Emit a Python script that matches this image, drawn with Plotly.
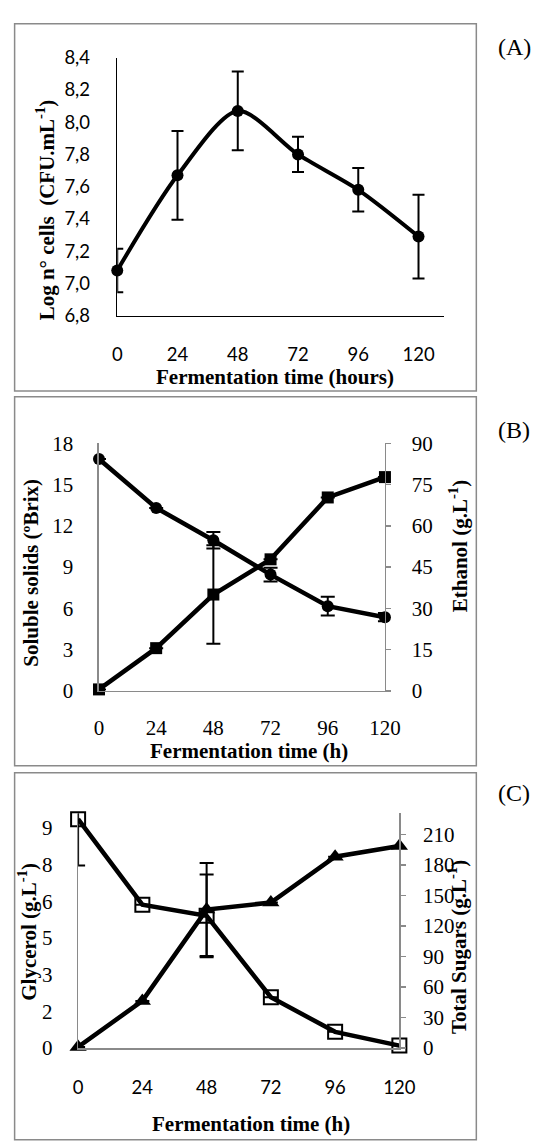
import plotly.graph_objects as go

# ---------------- data ----------------
hours = [0, 24, 48, 72, 96, 120]

# (A) yeast population
log_cells = [7.08, 7.67, 8.07, 7.80, 7.58, 7.29]
log_cells_err = [0.135, 0.275, 0.245, 0.11, 0.135, 0.26]

# (B) soluble solids and ethanol
soluble_solids = [16.85, 13.3, 10.95, 8.45, 6.15, 5.35]
soluble_solids_err = [0, 0, 0.6, 0.5, 0.68, 0.3]
ethanol = [0.5, 15.5, 35.0, 47.8, 70.3, 77.7]
ethanol_err = [0, 0, 17.9, 0, 0, 0]

# (C) glycerol and total sugars
glycerol = [0.05, 1.93, 5.66, 5.95, 7.82, 8.26]
glycerol_err = [0, 0, 1.9, 0, 0, 0]
total_sugars = [225, 141, 130, 50, 16, 2.5]
total_sugars_err = [45.5, 0, 40.7, 0, 0, 0]

x_ticks = [0, 24, 48, 72, 96, 120]
glycerol_tickvals = [0, 1.5, 3, 4.5, 6, 7.5, 9]
glycerol_ticktext = ["0", "2", "3", "5", "6", "8", "9"]

# ---------------- geometry helpers ----------------
W, H = 551, 1146
def fx(px):
    return px / W
def fy(py):
    return 1 - py / H

SERIF = "Liberation Serif, Times New Roman, serif"
SANS = "Lato, Carlito, Calibri, sans-serif"
GRAY = "#8a8a8a"

fig = go.Figure()

# (A)
fig.add_trace(go.Scatter(x=hours, y=log_cells, mode="lines+markers",
                         line=dict(color="black", width=4, shape="spline", smoothing=0.8),
                         marker=dict(symbol="circle", size=12, color="black"),
                         cliponaxis=False, xaxis="x", yaxis="y", showlegend=False))
fig.add_trace(go.Scatter(x=hours, y=log_cells, mode="markers",
                         marker=dict(size=1, color="rgba(0,0,0,0)"),
                         error_y=dict(type="data", array=log_cells_err, color="black",
                                      thickness=2, width=6),
                         xaxis="x", yaxis="y", showlegend=False))

# (B)
fig.add_trace(go.Scatter(x=hours, y=soluble_solids, mode="lines+markers",
                         line=dict(color="black", width=4.5),
                         marker=dict(symbol="circle", size=12, color="black"),
                         cliponaxis=False, xaxis="x2", yaxis="y2", showlegend=False))
fig.add_trace(go.Scatter(x=hours, y=soluble_solids, mode="markers",
                         marker=dict(size=1, color="rgba(0,0,0,0)"),
                         error_y=dict(type="data", array=soluble_solids_err, color="black",
                                      thickness=2, width=7),
                         xaxis="x2", yaxis="y2", showlegend=False))
fig.add_trace(go.Scatter(x=hours, y=ethanol, mode="lines+markers",
                         line=dict(color="black", width=4.5),
                         marker=dict(symbol="square", size=12, color="black"),
                         cliponaxis=False, xaxis="x2", yaxis="y3", showlegend=False))
fig.add_trace(go.Scatter(x=hours, y=ethanol, mode="markers",
                         marker=dict(size=1, color="rgba(0,0,0,0)"),
                         error_y=dict(type="data", array=ethanol_err, color="black",
                                      thickness=2, width=7),
                         xaxis="x2", yaxis="y3", showlegend=False))

# (C)
fig.add_trace(go.Scatter(x=hours, y=total_sugars, mode="lines+markers",
                         line=dict(color="black", width=4.5),
                         marker=dict(symbol="square-open", size=14, color="black",
                                     line=dict(width=2, color="black")),
                         cliponaxis=False, xaxis="x3", yaxis="y5", showlegend=False))
fig.add_trace(go.Scatter(x=hours, y=total_sugars, mode="markers",
                         marker=dict(size=1, color="rgba(0,0,0,0)"),
                         error_y=dict(type="data", array=total_sugars_err, color="black",
                                      thickness=2, width=7),
                         xaxis="x3", yaxis="y5", showlegend=False))
fig.add_trace(go.Scatter(x=hours, y=glycerol, mode="lines+markers",
                         line=dict(color="black", width=4.5),
                         marker=dict(symbol="triangle-up", size=15, color="black"),
                         cliponaxis=False, xaxis="x3", yaxis="y4", showlegend=False))
fig.add_trace(go.Scatter(x=hours, y=glycerol, mode="markers",
                         marker=dict(size=1, color="rgba(0,0,0,0)"),
                         error_y=dict(type="data", array=glycerol_err, color="black",
                                      thickness=2, width=7),
                         xaxis="x3", yaxis="y4", showlegend=False))

common_x = dict(showgrid=False, zeroline=False, showline=True, ticks="",
                tickmode="array", tickvals=x_ticks, fixedrange=True)
common_y = dict(showgrid=False, zeroline=False, showline=True, fixedrange=True)

SANS_TICK = dict(family=SANS, size=18.5, color="black")
SERIF_TICK = dict(family=SERIF, size=21, color="black")

fig.update_layout(
    width=W, height=H,
    margin=dict(l=0, r=0, t=0, b=0),
    paper_bgcolor="white", plot_bgcolor="rgba(0,0,0,0)",
    separators=",.",
    showlegend=False,
    hovermode=False,
    xaxis=dict(common_x, domain=[fx(116.7), fx(456)], range=[0, 130], anchor="y",
               linecolor="black", linewidth=1.5,
               tickfont=SANS_TICK, ticklabelstandoff=22),
    yaxis=dict(common_y, domain=[fy(310), fy(46.7)], range=[6.8, 8.4], anchor="x",
               dtick=0.2, tick0=6.8, tickformat=".1f", ticks="",
               linecolor="black", linewidth=1.5,
               tickfont=SANS_TICK, ticklabelstandoff=22),
    xaxis2=dict(common_x, domain=[fx(97.7), fx(395)], range=[0, 120], anchor="y2",
                linecolor=GRAY, linewidth=1.5,
                tickfont=SERIF_TICK, ticklabelstandoff=18),
    yaxis2=dict(common_y, domain=[fy(693.3), fy(440.5)], range=[0, 18], anchor="x2",
                dtick=3, ticks="", linecolor=GRAY, linewidth=1.5,
                tickfont=SERIF_TICK, ticklabelstandoff=20),
    yaxis3=dict(common_y, domain=[fy(693.3), fy(440.5)], range=[0, 90], anchor="x2",
                overlaying="y2", side="right", dtick=15,
                ticks="outside", ticklen=5, tickcolor=GRAY, tickwidth=1.5,
                linecolor=GRAY, linewidth=1.5,
                tickfont=SERIF_TICK, ticklabelstandoff=16),
    xaxis3=dict(common_x, domain=[fx(76), fx(410)], range=[0, 120], anchor="y4",
                linecolor=GRAY, linewidth=1.5,
                tickfont=SANS_TICK, ticklabelstandoff=22),
    yaxis4=dict(common_y, domain=[fy(1058.3), fy(818.3)], range=[0, 9.6], anchor="x3",
                tickmode="array", tickvals=glycerol_tickvals, ticktext=glycerol_ticktext,
                ticks="", linecolor=GRAY, linewidth=1.5,
                tickfont=SERIF_TICK, ticklabelstandoff=20),
    yaxis5=dict(common_y, domain=[fy(1058.3), fy(818.3)], range=[0, 230.9], anchor="x3",
                overlaying="y4", side="right", tickmode="array",
                tickvals=[0, 30, 60, 90, 120, 150, 180, 210],
                ticks="outside", ticklen=5, tickcolor=GRAY, tickwidth=1.5,
                linecolor=GRAY, linewidth=1.5,
                tickfont=SERIF_TICK, ticklabelstandoff=13),
)

# panel frames
for (x0, y0, x1, y1) in [(10, 12, 490, 387), (10, 393, 490, 770), (10, 777, 490, 1152)]:
    fig.add_shape(type="rect", xref="paper", yref="paper",
                  x0=fx(x0), x1=fx(x1), y0=fy(y1), y1=fy(y0),
                  line=dict(color=GRAY, width=1.5), fillcolor="rgba(0,0,0,0)", layer="below")

def ann(text, px, py, size=21, angle=0, family=SERIF):
    fig.add_annotation(text=text, x=fx(px), y=fy(py), xref="paper", yref="paper",
                       xanchor="center", yanchor="middle", showarrow=False,
                       textangle=angle, font=dict(family=family, size=size, color="black"))

ann("(A)", 529.5, 36, size=24)
ann("(B)", 529.0, 427, size=24)
ann("(C)", 529.5, 798, size=24)

ann("<b>Fermentation time (hours)</b>", 280.5, 373)
ann("<b>Log n° cells\u00a0\u00a0(CFU.mL<sup>-1</sup>)</b>", 41.7, 202.5, angle=-90)

ann("<b>Fermentation time (h)</b>", 254, 755)
ann("<b>Soluble solids (ºBrix)</b>", 26.7, 573, angle=-90)
ann("<b>Ethanol (g.L<sup>-1</sup>)</b>", 471.7, 546, angle=-90)

ann("<b>Fermentation time (h)</b>", 255.5, 1136)
ann("<b>Glycerol (g.L<sup>-1</sup>)</b>", 23.3, 939, angle=-90)
ann("<b>Total Sugars (g.L<sup>-1</sup>)</b>", 470, 955, angle=-90)

fig.write_html("out.html",
               config={"displayModeBar": False, "staticPlot": True},
               post_script="document.body.style.margin='0';document.body.style.overflow='hidden';")
